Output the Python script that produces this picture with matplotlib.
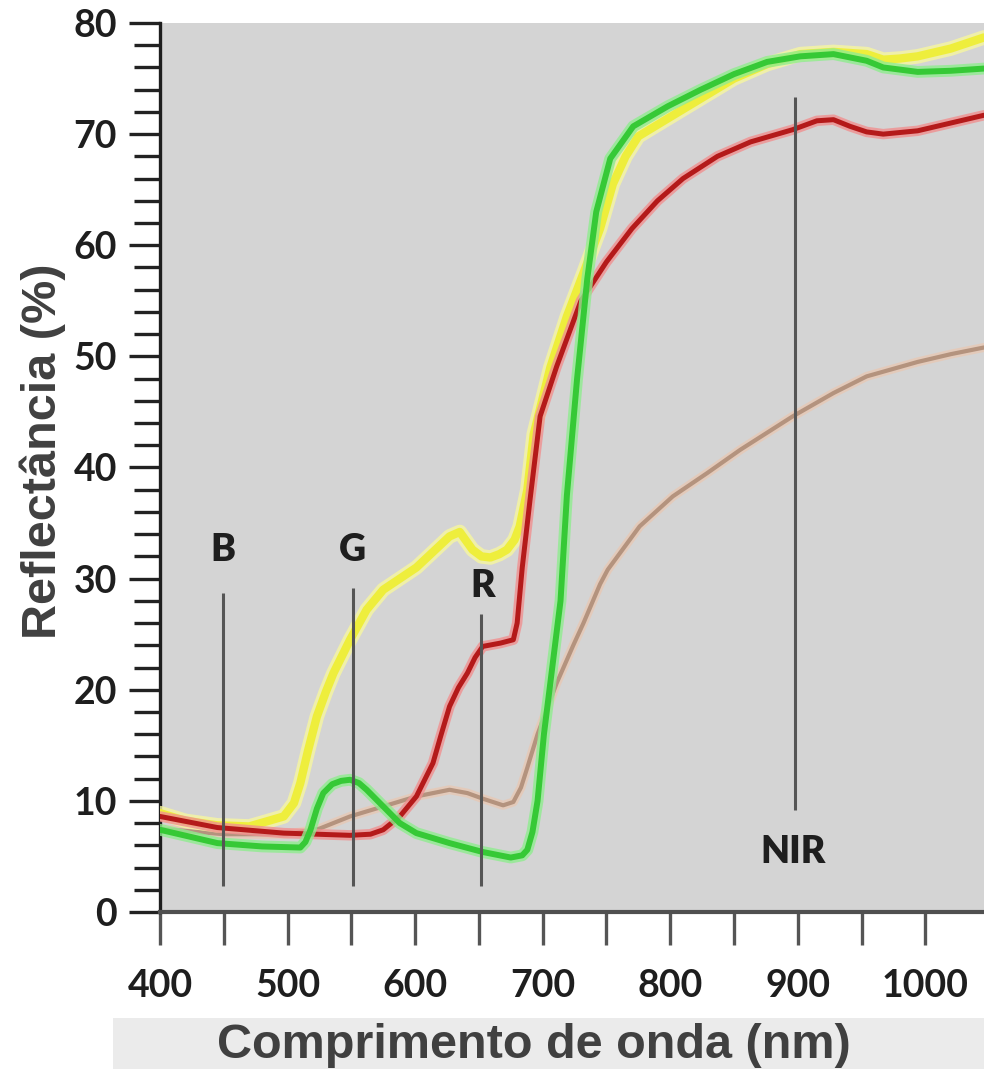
import matplotlib
matplotlib.use("Agg")
import matplotlib.pyplot as plt
from matplotlib.patches import Rectangle

# wavelength (nm) / reflectance (%)
yellow_nm = [400, 420, 445, 470, 497, 505, 510, 516, 523, 530, 536, 549, 562, 575, 588,
             601, 614, 627, 635, 645, 652, 659, 666, 672, 678, 682, 688, 693, 706, 719,
             732, 745, 755, 765, 775, 798, 824, 850, 876, 902, 928, 954, 967, 980, 994,
             1020, 1046]
yellow_val = [8.9, 8.2, 7.8, 7.7, 8.6, 9.8, 11.6, 14.5, 17.6, 19.8, 21.5, 24.5, 27.2, 29.0, 30.0,
              31.0, 32.4, 33.8, 34.2, 32.6, 32.0, 31.9, 32.2, 32.6, 33.5, 34.7, 38.0, 43.0, 49.0, 53.6,
              57.5, 61.5, 65.5, 68.0, 69.8, 71.4, 73.2, 75.0, 76.3, 77.2, 77.4, 77.2, 76.7, 76.8, 77.0,
              77.7, 78.7]

green_nm = [400, 445, 480, 510, 514, 518, 523, 528, 535, 542, 549, 556, 562, 575, 588,
            601, 627, 653, 675, 684, 688, 692, 696, 701, 706, 714, 719, 727, 735, 742,
            753, 771, 798, 824, 850, 876, 902, 928, 954, 967, 994, 1020, 1046]
green_val = [7.4, 6.2, 5.9, 5.8, 6.3, 7.4, 9.3, 10.7, 11.5, 11.8, 11.9, 11.6, 11.0, 9.5, 8.0,
             7.1, 6.2, 5.4, 4.9, 5.1, 5.6, 7.2, 10.0, 16.0, 20.6, 28.0, 37.5, 48.0, 57.0, 63.0,
             67.8, 70.7, 72.5, 74.0, 75.4, 76.5, 77.0, 77.2, 76.6, 76.0, 75.6, 75.7, 75.9]

red_nm = [400, 445, 497, 549, 565, 575, 588, 601, 614, 620, 627, 634, 641, 647, 653,
          667, 677, 680, 684, 690, 698, 711, 730, 750, 770, 790, 810, 837, 863, 896,
          915, 928, 941, 954, 967, 994, 1020, 1046]
red_val = [8.6, 7.6, 7.1, 6.9, 7.0, 7.4, 8.6, 10.4, 13.4, 15.8, 18.5, 20.2, 21.5, 22.9, 23.9,
           24.2, 24.5, 26.0, 31.0, 37.0, 44.6, 49.1, 55.0, 58.5, 61.5, 64.0, 66.0, 68.0, 69.3, 70.4,
           71.2, 71.3, 70.7, 70.2, 70.0, 70.3, 71.0, 71.7]

brown_nm = [400, 450, 500, 525, 549, 575, 601, 627, 641, 653, 669, 677, 683, 688, 696,
            711, 724, 732, 745, 751, 776, 802, 829, 855, 896, 928, 954, 994, 1020, 1046]
brown_val = [7.5, 7.0, 7.0, 7.5, 8.6, 9.5, 10.4, 11.0, 10.7, 10.2, 9.6, 9.9, 11.2, 13.0, 16.0,
             20.6, 24.0, 26.0, 29.5, 30.8, 34.7, 37.4, 39.5, 41.6, 44.6, 46.7, 48.2, 49.5, 50.2, 50.8]

# band markers
band_names = ["B", "G", "R", "NIR"]
band_nm = [449, 551, 652, 898]
band_low = [2.3, 2.3, 2.3, 9.2]
band_high = [28.7, 29.2, 26.8, 73.3]

x_ticks = [400, 500, 600, 700, 800, 900, 1000]
y_ticks = [0, 10, 20, 30, 40, 50, 60, 70, 80]

fig = plt.figure(figsize=(9.84, 10.69), dpi=100)
fig.patch.set_facecolor("white")
fig.patches.append(Rectangle((0.115, 0), 0.885, 51 / 1069, transform=fig.transFigure,
                             facecolor="#ebebeb", edgecolor="none", zorder=0))

ax = fig.add_axes([160 / 984, 157 / 1069, 824 / 984, 889 / 1069])
ax.set_facecolor("#d4d4d4")

curves = [
    (brown_nm, brown_val, "#b4937e", "#e8c8b4", 3.0, 6.5),
    (yellow_nm, yellow_val, "#eeee3c", "#f6f6a0", 6.0, 10.5),
    (red_nm, red_val, "#b41a1a", "#f09090", 3.6, 7.5),
    (green_nm, green_val, "#36c936", "#8fec8f", 4.3, 8.5),
]
for z, (xs, ys, core, halo, lw, hw) in enumerate(curves):
    ax.plot(xs, ys, color=halo, lw=hw, alpha=0.8, solid_capstyle="round",
            solid_joinstyle="round", zorder=2 + 2 * z)
    ax.plot(xs, ys, color=core, lw=lw, solid_capstyle="round",
            solid_joinstyle="round", zorder=3 + 2 * z)

ax.vlines(band_nm, band_low, band_high, colors="#555555", lw=2.2, zorder=20)

label_pos = [(449, 32.6), (551, 32.6), (653, 29.3), (896, 5.4)]
for name, (lx, ly) in zip(band_names, label_pos):
    ax.text(lx, ly, name, ha="center", va="center", fontsize=27,
            fontweight="heavy", family="Lato", color="#1e1e1e", zorder=21)

ax.set_xlim(400, 1046)
ax.set_ylim(0, 80)
ax.set_xticks(x_ticks)
ax.set_xticks(list(range(450, 1050, 100)), minor=True)
ax.set_yticks(y_ticks)
ax.set_yticks([v for v in range(0, 81, 2) if v % 10], minor=True)

for lab in ax.get_xticklabels() + ax.get_yticklabels():
    lab.set_family("Lato")
    lab.set_fontweight("bold")
    lab.set_fontsize(27)
    lab.set_color("#1e1e1e")

ax.tick_params(axis="y", which="major", direction="out", length=22, width=2.4,
               color="#222222", pad=9)
ax.tick_params(axis="y", which="minor", direction="out", length=19, width=2.4,
               color="#222222")
ax.tick_params(axis="x", which="both", direction="out", length=24, width=2.4,
               color="#555555", pad=17)

for s in ["top", "right"]:
    ax.spines[s].set_visible(False)
ax.spines["left"].set_linewidth(2.4)
ax.spines["left"].set_color("#1e1e1e")
ax.spines["bottom"].set_linewidth(3)
ax.spines["bottom"].set_color("#505050")

fig.text(43 / 984, 1 - 451 / 1069, "Reflectância (%)", rotation=90, ha="center",
         va="center", fontsize=35, fontweight="bold", family="Liberation Sans",
         color="#404040")
fig.text(534 / 984, 11 / 1069, "Comprimento de onda (nm)", ha="center", va="baseline",
         fontsize=35, fontweight="bold", family="Liberation Sans", color="#404040")

fig.savefig("out.png", dpi=100)
